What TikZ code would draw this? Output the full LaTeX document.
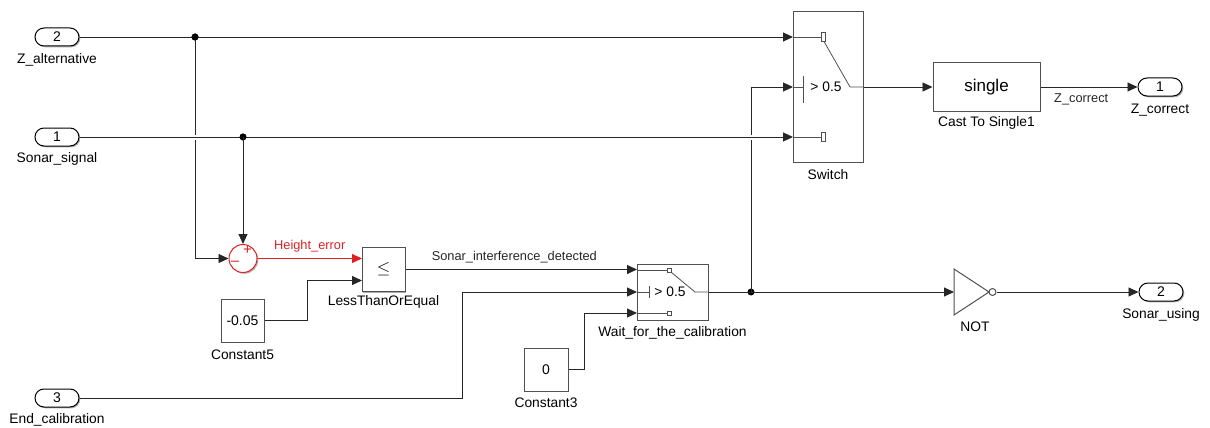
\documentclass[tikz,border=0pt]{standalone}
\usepackage{fontspec}
\setmainfont{Liberation Sans}
\usetikzlibrary{arrows.meta,shadows}
\definecolor{sred}{RGB}{220,35,35}
\definecolor{bgray}{RGB}{80,80,80}
\begin{document}
\begin{tikzpicture}[x=1pt,y=-1pt,
  lbl/.style={font=\fontsize{13.8}{15}\selectfont, inner sep=0pt},
  slbl/.style={font=\fontsize{12.8}{14}\selectfont, inner sep=0pt},
  shad/.style={drop shadow={shadow xshift=1.3pt,shadow yshift=-1.3pt,fill=black!45,opacity=0.7}},
  blk/.style={draw=bgray, line width=1pt, fill=white, shad, inner sep=0pt, font=\fontsize{14}{16}\selectfont},
  port/.style={draw=black, line width=1pt, fill=white, shad, rounded corners=9pt, minimum width=44pt, minimum height=18pt, inner sep=0pt, font=\fontsize{14}{16}\selectfont},
  wire/.style={line width=0.9pt, black!85},
  sig/.style={wire, -{Triangle[length=10pt,width=9pt]}},
  jdot/.style={circle, fill=black, inner sep=0pt, minimum size=7pt},
  inner/.style={line width=0.8pt, bgray}
]
\useasboundingbox (0,0) rectangle (1210,428);

% ports
\node[port] (in2) at (57,37) {2};
\node[lbl] (in2l) at (57,60) {Z\_alternative};
\node[port] (in1) at (57,137) {1};
\node[lbl] (in1l) at (57,159) {Sonar\_signal};
\node[port] (in3) at (57,398) {3};
\node[lbl] (in3l) at (57,420) {End\_calibration};
\node[port] (out1) at (1160,87) {1};
\node[lbl] (out1l) at (1160,110) {Z\_correct};
\node[port] (out2) at (1161,292) {2};
\node[lbl] (out2l) at (1161,315) {Sonar\_using};

% blocks
\node[circle, draw=sred, line width=1pt, fill=white, shad, minimum size=28pt, inner sep=0pt] (sum) at (243,258.5) {};
\node[text=sred, font=\fontsize{15}{15}\selectfont, inner sep=0pt] (sump) at (247.5,250) {+};
\node[text=sred, font=\fontsize{15}{15}\selectfont, inner sep=0pt] (summ) at (235,263) {–};

\node[blk, minimum width=43pt, minimum height=44pt, font=\fontsize{19}{19}\selectfont] (lte) at (383.5,269.5) {$\leq$};
\node[lbl] (ltel) at (383.5,302) {LessThanOrEqual};

\node[blk, minimum width=43pt, minimum height=43pt] (c5) at (242.5,320.5) {-0.05};
\node[lbl] (c5l) at (242.5,355) {Constant5};

\node[blk, minimum width=44pt, minimum height=43pt] (c3) at (546,369.5) {0};
\node[lbl] (c3l) at (546,403) {Constant3};

\node[blk, minimum width=71pt, minimum height=56pt] (wait) at (672.5,292) {};
\node[lbl] (waitl) at (672.5,333) {Wait\_for\_the\_calibration};

\node[blk, minimum width=70pt, minimum height=150pt] (sw) at (828,87) {};
\node[lbl] (swl) at (828,175) {Switch};

\node[blk, minimum width=107pt, minimum height=48pt, font=\fontsize{17}{17}\selectfont] (cast) at (986.5,87) {single};
\node[lbl] (castl) at (986.5,123) {Cast To Single1};

% NOT gate
\draw[bgray, line width=1pt, fill=white] (954,269) -- (989,292) -- (954,315) -- cycle;
\node[circle, draw=bgray, line width=1pt, fill=white, minimum size=7pt, inner sep=0pt] (bub) at (992.5,292) {};
\coordinate (notin) at (954,292);
\node[lbl] (notl) at (975,327) {NOT};

% switch internals
\draw[inner] (793,37) -- (821.5,37);
\draw[inner, fill=white] (821.5,32.5) rectangle (825.5,41.5);
\draw[inner] (793,137) -- (821.5,137);
\draw[inner, fill=white] (821.5,132.5) rectangle (825.5,141.5);
\draw[inner] (793,87) -- (803,87);
\draw[inner] (803,76) -- (803,103);
\node[font=\fontsize{13.8}{15}\selectfont, inner sep=0pt] (swt) at (826,87) {> 0.5};
\draw[inner] (824,41.5) -- (850,87) -- (863,87);

% wait internals
\draw[inner] (637,270) -- (667,270);
\draw[inner, fill=white] (667,268) rectangle (671.5,272.5);
\draw[inner] (637,313) -- (667,313);
\draw[inner, fill=white] (667,311) rectangle (671.5,315.5);
\draw[inner] (637,292) -- (649,292);
\draw[inner] (649,286) -- (649,298);
\node[font=\fontsize{13.8}{15}\selectfont, inner sep=0pt] (wt) at (670,292) {> 0.5};
\draw[inner] (671.5,272.5) -- (695,292) -- (708,292);

% connection points
\coordinate (sw1) at (793,37);
\coordinate (sw2) at (793,87);
\coordinate (sw3) at (793,137);
\coordinate (w1) at (637,269.5);
\coordinate (w2) at (637,292);
\coordinate (w3) at (637,313);
\coordinate (l1) at (362,258.5);
\coordinate (l2) at (362,280.5);
\coordinate (b3) at (462,398);
\coordinate (b5) at (307,320.5);
\coordinate (bc3) at (584,369.5);

\node[jdot] (j1) at (195,37) {};
\node[jdot] (j2) at (243,137) {};
\node[jdot] (j3) at (751,292) {};

% wires
\draw[sig] (in2.east) -- (sw1);
\draw[sig] (j1.center) |- (sum.west);
\draw[sig] (j3.center) |- (sw2);
\draw[sig, preaction={draw=white, line width=5pt, -}] (in1.east) -- (sw3);
\node[jdot] at (j2) {};
\node[jdot] at (j1) {};
\draw[sig] (j2.center) -- (sum.north);
\draw[sig, sred] (sum.east) -- (l1) node[slbl, text=sred, midway, above=6pt] (hel) {Height\_error};
\draw[sig] (c5.east) -- (b5) |- (l2);
\draw[sig] (lte.east |- w1) -- (w1) node[slbl, pos=0.47, above=6pt] (sidl) {Sonar\_interference\_detected};
\draw[sig] (in3.east) -- (b3) |- (w2);
\draw[sig] (c3.east) -- (bc3) |- (w3);
\draw[wire] (wait.east) -- (j3.center);
\draw[sig] (j3.center) -- (notin);
\draw[sig] (sw.east) -- (cast.west);
\draw[sig] (cast.east) -- (out1.west) node[slbl, pos=0.42, below=6pt] (zcl) {Z\_correct};
\draw[sig] (bub.east) -- (out2.west);
\end{tikzpicture}
\end{document}
